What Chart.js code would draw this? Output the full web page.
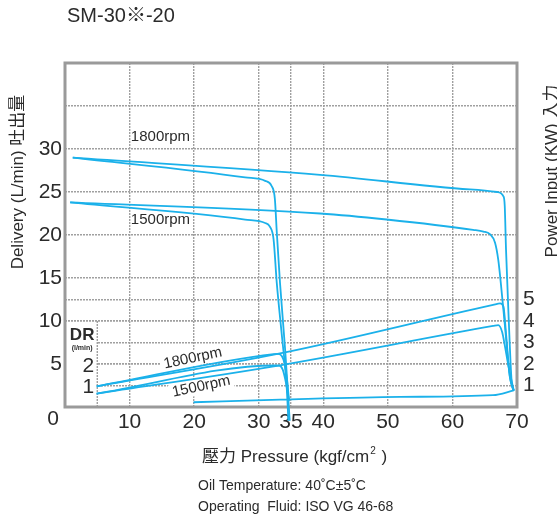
<!DOCTYPE html>
<html>
<head>
<meta charset="utf-8">
<title>SM-30※-20</title>
<script src="https://cdn.jsdelivr.net/npm/chart.js@4.4.1/dist/chart.umd.min.js"></script>
<style>
    html, body { margin: 0; padding: 0; background: #fff; }
    canvas { display: block; }
</style>
</head>
<body>
<canvas id="pumpChart" width="557" height="517"></canvas>
<script>
/* ================= DATA ================= */
const xTicks = [0, 10, 20, 30, 35, 40, 50, 60, 70];     // kgf/cm2
const deliveryTicks = [0, 5, 10, 15, 20, 25, 30, 35, 40]; // L/min
const powerTicks = [1, 2, 3, 4, 5];                       // KW
const drTicks = [1, 2];                                   // l/min

// delivery, 1800rpm / 1500rpm, 35 and 70 kgf/cm2 cut-off
const p1800_35 = [1.2, 27.9, 31.0, 32.0, 32.5, 32.8, 33.3, 34.1, 34.6, 34.8];
const q1800_35 = [29.0, 26.7, 26.3, 25.7, 24.2, 20.3, 14.4, 6.6, 0.8, -1.6];
const p1500_35 = [0.8, 27.9, 31.0, 31.7, 32.3, 32.8, 33.6, 34.3, 34.6];
const q1500_35 = [23.8, 21.8, 21.4, 21.0, 19.5, 14.4, 8.2, 2.7, -1.6];
const p1800_70 = [1.2, 39.5, 62.7, 66.9, 67.9, 68.1, 68.3, 68.7, 69.2, 69.5];
const q1800_70 = [29.0, 27.0, 25.3, 25.0, 24.5, 23.4, 18.3, 10.5, 2.7, 1.9];
const p1500_70 = [0.8, 39.5, 49.8, 63.2, 64.8, 65.8, 66.6, 67.1, 67.6, 68.1, 68.9, 69.5];
const q1500_70 = [23.8, 22.5, 21.8, 20.6, 20.4, 20.1, 19.1, 17.1, 13.6, 9.7, 3.5, 1.9];

// power input (KW)
const pw1800_70 = [4.9, 33.3, 66.3, 67.4, 67.9, 68.3, 68.9, 69.5];
const w1800_70 = [0.96, 2.49, 4.75, 4.82, 4.67, 3.42, 1.39, 0.77];
const pw1500_70 = [4.9, 33.3, 66.3, 67.1, 67.7, 68.1, 68.7, 69.5];
const w1500_70 = [0.62, 1.94, 3.77, 3.81, 3.49, 2.88, 1.86, 0.77];
const pw1800_35 = [4.9, 32.3, 33.0, 33.6, 34.0, 34.4, 34.7];
const w1800_35 = [0.96, 2.46, 2.47, 2.36, 2.02, 1.2, 0.3];
const pw1500_35 = [4.9, 32.6, 33.2, 33.7, 34.1, 34.7];
const w1500_35 = [0.62, 1.93, 1.92, 1.75, 1.3, 0.3];

// drain
const pDr = [19.9, 33.3, 51.9, 66.3, 69.5];
const qDr = [0.22, 0.34, 0.47, 0.55, 0.77];

/* ================= STYLE ================= */
const BLUE = "#1bb1ea";
const GRID = "#a0a0a0";
const TEXT = "#2b2b2b";
const FONT = "'Liberation Sans', Arial, 'Noto Sans CJK TC', sans-serif";

function pts(xs, ys) {
    return xs.map((x, i) => ({ x: x, y: ys[i] }));
}

function curve(xs, ys, axis) {
    return {
        data: pts(xs, ys),
        yAxisID: axis,
        borderColor: BLUE,
        borderWidth: 1.8,
        pointRadius: 0,
        fill: false,
        cubicInterpolationMode: "monotone",
        clip: false
    };
}

/* ================= DECORATION ================= */
const decor = {
    id: "decor",
    beforeDatasetsDraw(chart) {
        const { ctx, chartArea: a, scales } = chart;
        const x = scales.x, y = scales.y, y2 = scales.y2;
        ctx.save();

        // DR box at lower left
        const bx = x.getPixelForValue(5);
        const by = y.getPixelForValue(10);
        ctx.fillStyle = "#fff";
        ctx.fillRect(a.left, by + 1, bx - a.left, a.bottom - by - 1);
        ctx.strokeStyle = GRID;
        ctx.lineWidth = 1.4;
        ctx.setLineDash([2, 1]);
        ctx.beginPath();
        ctx.moveTo(bx, by);
        ctx.lineTo(bx, a.bottom);
        ctx.stroke();
        ctx.setLineDash([]);

        // frame
        ctx.lineWidth = 3;
        ctx.strokeStyle = "#9a9a9a";
        ctx.strokeRect(a.left, a.top, a.right - a.left, a.bottom - a.top);

        ctx.fillStyle = TEXT;
        ctx.textBaseline = "middle";

        ctx.textAlign = "center";
        ctx.font = "bold 17px " + FONT;
        ctx.fillText("DR", (a.left + bx) / 2 + 1, by + 14);
        ctx.font = "bold 7px " + FONT;
        ctx.fillText("(l/min)", (a.left + bx) / 2 + 1, by + 27);

        ctx.textAlign = "right";
        ctx.font = "21px " + FONT;
        drTicks.forEach(v => ctx.fillText(String(v), bx - 3, y2.getPixelForValue(v) + 2));

        // curve labels
        ctx.textAlign = "left";
        ctx.font = "15px " + FONT;
        ctx.fillText("1800rpm", x.getPixelForValue(10.2), y.getPixelForValue(31.4));
        ctx.fillText("1500rpm", x.getPixelForValue(10.2), y.getPixelForValue(21.8));

        const tilted = [["1800rpm", 19.8, 2.27], ["1500rpm", 21.1, 0.95]];
        tilted.forEach(t => {
            ctx.save();
            ctx.translate(x.getPixelForValue(t[1]), y2.getPixelForValue(t[2]));
            ctx.rotate(-12 * Math.PI / 180);
            const w = ctx.measureText(t[0]).width;
            ctx.fillStyle = "#fff";
            ctx.fillRect(-w / 2 - 3, -8, w + 6, 16);
            ctx.fillStyle = TEXT;
            ctx.textAlign = "center";
            ctx.fillText(t[0], 0, 0);
            ctx.restore();
        });

        ctx.restore();
    },
    afterDraw(chart) {
        const { ctx, chartArea: a } = chart;
        ctx.save();
        ctx.fillStyle = TEXT;
        ctx.textBaseline = "middle";

        // title
        ctx.textAlign = "left";
        ctx.font = "20px " + FONT;
        ctx.fillText("SM-30※-20", 67, 16);

        // corner zero
        ctx.textAlign = "center";
        ctx.font = "21px " + FONT;
        ctx.fillText("0", a.left - 12, a.bottom + 12);

        // axis titles
        ctx.font = "17px " + FONT;
        ctx.save();
        ctx.translate(18, 182);
        ctx.rotate(-Math.PI / 2);
        ctx.fillText("Delivery (L/min) 吐出量", 0, 0);
        ctx.restore();

        ctx.save();
        ctx.translate(552, 171);
        ctx.rotate(-Math.PI / 2);
        ctx.fillText("Power Input (KW) 入力", 0, 0);
        ctx.restore();

        // pressure title with superscript
        ctx.textAlign = "left";
        let px = 202;
        const py = 457;
        const part1 = "壓力 Pressure (kgf/cm";
        ctx.fillText(part1, px, py);
        px += ctx.measureText(part1).width + 1;
        ctx.font = "10px " + FONT;
        ctx.fillText("2", px, py - 6);
        px += ctx.measureText("2").width + 1;
        ctx.font = "17px " + FONT;
        ctx.fillText(" )", px, py);

        // notes
        ctx.font = "14px " + FONT;
        ctx.fillText("Oil Temperature: 40˚C±5˚C", 198, 486);
        ctx.fillText("Operating  Fluid: ISO VG 46-68", 198, 507);

        ctx.restore();
    }
};

/* ================= CHART ================= */
const gridOpts = { color: GRID, lineWidth: 1.4, drawTicks: false };
const borderOpts = { display: false, dash: [2, 1] };
const tickFont = { family: FONT, size: 21 };

new Chart(document.getElementById("pumpChart"), {
    type: "line",
    data: {
        datasets: [
            curve(p1800_35, q1800_35, "y"),
            curve(p1500_35, q1500_35, "y"),
            curve(p1800_70, q1800_70, "y"),
            curve(p1500_70, q1500_70, "y"),
            curve(pw1800_70, w1800_70, "y2"),
            curve(pw1500_70, w1500_70, "y2"),
            curve(pw1800_35, w1800_35, "y2"),
            curve(pw1500_35, w1500_35, "y2"),
            curve(pDr, qDr, "y2")
        ]
    },
    options: {
        responsive: false,
        animation: false,
        devicePixelRatio: 1,
        layout: { padding: { top: 63, left: 0, right: 0, bottom: 0 } },
        plugins: {
            legend: { display: false },
            tooltip: { enabled: false }
        },
        scales: {
            x: {
                type: "linear",
                min: 0,
                max: 70,
                afterBuildTicks: s => { s.ticks = xTicks.map(v => ({ value: v })); },
                afterFit: s => { s.height = 110; },
                grid: gridOpts,
                border: borderOpts,
                ticks: {
                    font: tickFont,
                    color: TEXT,
                    padding: 3,
                    maxRotation: 0,
                    autoSkip: false,
                    callback: v => (v === 0 ? "" : v)
                }
            },
            y: {
                position: "left",
                min: 0,
                max: 40,
                afterBuildTicks: s => { s.ticks = deliveryTicks.map(v => ({ value: v })); },
                afterFit: s => { s.width = 65; },
                grid: gridOpts,
                border: borderOpts,
                ticks: {
                    font: tickFont,
                    color: TEXT,
                    padding: 3,
                    callback: v => (v >= 5 && v <= 30 ? v : "")
                }
            },
            y2: {
                position: "right",
                min: 0,
                max: 16,
                afterBuildTicks: s => { s.ticks = powerTicks.map(v => ({ value: v })); },
                afterFit: s => { s.width = 40; },
                grid: gridOpts,
                border: borderOpts,
                ticks: {
                    font: tickFont,
                    color: TEXT,
                    padding: 6
                }
            }
        }
    },
    plugins: [decor]
});
</script>
</body>
</html>
